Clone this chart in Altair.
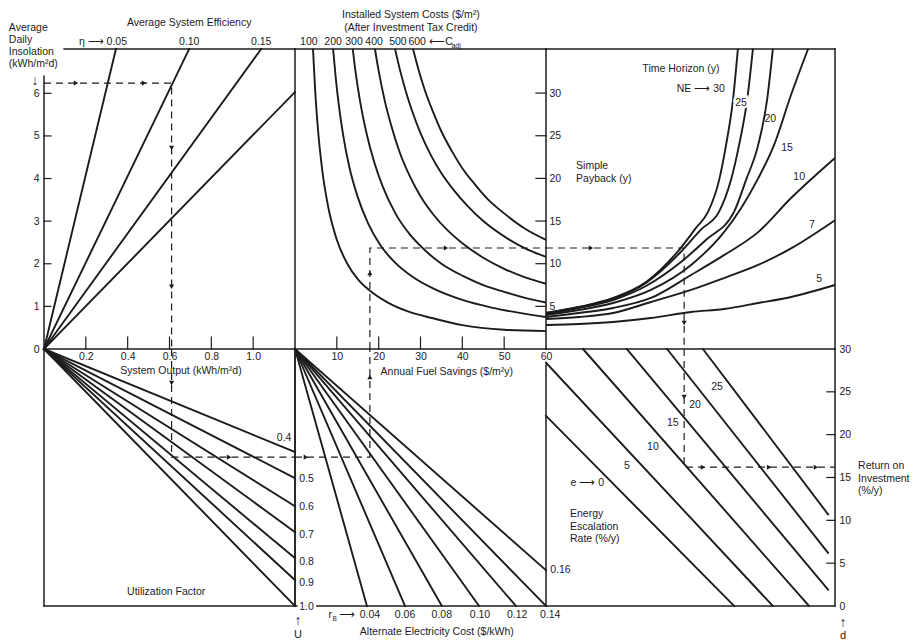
import altair as alt
import pandas as pd

FONT = "Liberation Sans"
INK = "#1c1c1c"

# ================= values =================
# --- top-left: average system efficiency (system output vs. daily insolation)
eff_labels = ["0.05", "0.10", "0.15", "0.20"]
eff_end_output = [0.344, 0.694, 1.038, 1.2]
eff_end_insolation = [7.04, 7.04, 7.04, 6.03]
insolation_ticks = [1, 2, 3, 4, 5, 6]
insolation_labels = [0, 1, 2, 3, 4, 5, 6]
output_ticks = [0.2, 0.4, 0.6, 0.8, 1.0]

# --- top-middle: installed system cost curves (annual fuel savings -> simple payback)
cost_labels = ["100", "200", "300", "400", "500", "600"]
cost_label_savings = [3.3, 9.1, 14.1, 18.9, 24.6, 29.2]
cost_savings = [
    [4.3, 4.8, 5.5, 6.5, 8.0, 10.0, 12.5, 15.0, 18.0, 22.0, 27.0, 33.0, 40.0, 50.0, 60.0],
    [9.1, 9.8, 10.5, 11.5, 13.0, 15.0, 17.5, 20.5, 24.0, 28.0, 33.0, 40.0, 47.0, 54.0, 60.0],
    [13.8, 14.5, 15.5, 17.0, 19.0, 21.0, 24.0, 27.5, 31.0, 35.0, 40.0, 45.0, 50.0, 55.0, 60.0],
    [19.1, 20.0, 21.5, 23.0, 25.0, 27.5, 30.0, 33.0, 36.5, 40.0, 45.0, 50.0, 55.0, 60.0],
    [23.9, 25.0, 26.5, 28.0, 30.0, 32.5, 35.0, 38.0, 41.0, 45.0, 50.0, 55.0, 60.0],
    [28.2, 29.5, 31.0, 33.0, 35.0, 37.5, 40.0, 43.0, 46.0, 50.0, 55.0, 60.0],
]
cost_payback = [
    [35.2, 30.5, 25.7, 21.0, 16.5, 12.8, 10.0, 8.2, 6.8, 5.5, 4.4, 3.6, 2.8, 2.25, 2.1],
    [35.2, 31.5, 28.5, 25.1, 21.3, 17.8, 14.7, 12.1, 10.1, 8.5, 7.1, 5.75, 4.85, 4.2, 3.75],
    [35.2, 32.4, 29.2, 25.5, 21.8, 19.0, 15.9, 13.4, 11.6, 10.0, 8.6, 7.5, 6.7, 6.0, 5.45],
    [35.2, 32.6, 29.0, 26.2, 23.1, 20.2, 17.9, 15.8, 13.9, 12.4, 10.7, 9.4, 8.4, 7.65],
    [35.2, 32.9, 30.2, 27.9, 25.3, 22.7, 20.6, 18.6, 16.9, 15.0, 13.2, 11.8, 10.8],
    [35.2, 32.8, 30.4, 27.8, 25.5, 23.2, 21.2, 19.3, 17.6, 15.9, 14.1, 12.8],
]
savings_ticks = [10, 20, 30, 40, 50, 60]
payback_ticks = [5, 10, 15, 20, 25, 30]

# --- top-right: time horizon curves (unlabelled index 0-100 -> simple payback)
horizon_labels = ["30", "25", "20", "15", "10", "7", "5"]
horizon_index = [
    [0, 11.4, 23.2, 34.6, 46.0, 51.9, 56.1, 59.9, 62.3, 64.7, 66.4],
    [0, 11.4, 23.2, 34.6, 46.7, 53.6, 59.9, 64.0, 66.8, 69.6, 71.6],
    [0, 11.4, 23.2, 34.6, 46.7, 55.4, 65.1, 69.2, 73.4, 76.5, 78.5],
    [0, 11.4, 23.2, 36.3, 50.2, 61.6, 67.5, 73.4, 78.9, 84.8, 90.7],
    [0, 11.4, 23.2, 36.3, 50.2, 61.6, 73.4, 84.8, 100],
    [0, 11.4, 23.2, 36.3, 50.2, 61.6, 73.4, 84.8, 100],
    [0, 11.4, 23.2, 36.3, 50.2, 61.6, 73.4, 84.8, 100],
]
horizon_payback = [
    [4.22, 4.92, 5.98, 7.85, 11.6, 14.2, 16.1, 19.8, 23.9, 29.2, 35.2],
    [4.22, 4.92, 5.86, 7.74, 11.4, 14.0, 16.1, 19.8, 23.9, 29.2, 35.2],
    [4.10, 4.81, 5.74, 7.39, 10.2, 12.8, 16.1, 19.8, 23.9, 29.2, 35.2],
    [3.99, 4.57, 5.39, 6.92, 9.85, 13.7, 16.5, 20.0, 23.9, 29.8, 35.2],
    [3.75, 4.22, 4.81, 5.98, 8.68, 11.0, 13.7, 17.7, 22.4],
    [3.52, 3.75, 4.22, 5.51, 6.92, 8.32, 9.85, 11.8, 15.1],
    [2.81, 2.93, 3.17, 3.63, 4.34, 4.69, 5.39, 6.10, 7.50],
]
horizon_label_index = [61.9, 67.5, 77.6, 83.4, 87.6, 92.0, 94.5]
horizon_label_payback = [30.5, 28.8, 27.0, 23.6, 20.2, 14.5, 8.2]

# --- bottom-left: utilization factor lines (usable output at system output 1.2)
util_labels = ["0.4", "0.5", "0.6", "0.7", "0.8", "0.9", "1.0"]
util_end_usable = [0.481, 0.603, 0.734, 0.855, 0.977, 1.079, 1.2]
util_label_usable = [0.416, 0.607, 0.738, 0.869, 0.995, 1.093, 1.206]

# --- bottom-middle: alternate electricity cost lines
elec_labels = ["0.04", "0.06", "0.08", "0.10", "0.12", "0.14", "0.16"]
elec_end_savings = [17.2, 26.3, 35.1, 44.0, 52.8, 60.0, 60.0]
elec_end_usable = [1.2, 1.2, 1.2, 1.2, 1.2, 1.2, 1.033]
elec_label_savings = [17.9, 26.3, 35.1, 44.2, 53.1, 61.0]

# --- bottom-right: energy escalation rate lines (index -> return on investment)
esc_labels = ["0", "5", "10", "15", "20", "25"]
esc_start_index = [0.0, 0.0, 12.8, 28.0, 41.9, 54.3]
esc_start_roi = [22.2, 28.4, 30.0, 30.0, 30.0, 30.0]
esc_end_index = [65.1, 78.5, 91.0, 97.6, 97.6, 97.6]
esc_end_roi = [0.0, 0.0, 0.0, 1.9, 6.2, 10.7]
esc_label_index = [20.1, 28.0, 37.0, 43.9, 51.6, 59.2]
esc_label_roi = [14.35, 16.3, 18.6, 21.4, 23.5, 25.6]
roi_ticks = [5, 10, 15, 20, 25]
roi_labels = [0, 5, 10, 15, 20, 25, 30]

# --- worked example (dashed path)
ex_insolation = 6.24
ex_output = 0.61
ex_usable = 0.505
ex_savings = 17.9
ex_payback = 11.84
ex_index = 47.8
ex_roi = 16.2

# ================= helpers =================
W1, W2, W3 = 251, 251, 289
H1, H2 = 300, 257
ARW = "⟶"
ARW_L = "⟵"


def encoders(xdom, ydom, yrev=False, xaxis=None, yaxis=None):
    xs = alt.Scale(domain=xdom, nice=False, zero=False)
    ys = alt.Scale(domain=ydom, nice=False, zero=False, reverse=yrev)

    def X():
        return alt.X("x:Q", scale=xs, axis=xaxis, title=None)

    def Y():
        return alt.Y("y:Q", scale=ys, axis=yaxis, title=None)

    return X, Y


def segs(E, rows, width=1.5, dash=None, color=INK):
    X, Y = E
    df = pd.DataFrame(rows, columns=["x", "y", "x2", "y2"])
    kw = dict(color=color, strokeWidth=width, strokeCap="square")
    if dash:
        kw["strokeDash"] = dash
        kw["strokeCap"] = "butt"
    return alt.Chart(df).mark_rule(**kw).encode(
        x=X(), y=Y(), x2=alt.X2("x2"), y2=alt.Y2("y2"))


def paths(E, series, width=1.9, dash=None, interp="monotone"):
    X, Y = E
    rows = []
    for sid, (xs, ys) in enumerate(series):
        for i, (a, b) in enumerate(zip(xs, ys)):
            rows.append({"s": sid, "i": i, "x": a, "y": b})
    df = pd.DataFrame(rows)
    kw = dict(color=INK, strokeWidth=width, interpolate=interp)
    if dash:
        kw["strokeDash"] = dash
    return alt.Chart(df).mark_line(**kw).encode(
        x=X(), y=Y(), detail="s:N", order="i:Q")


def texts(E, rows, align="center", size=10.5, baseline="middle", halo=False, **kw):
    X, Y = E
    df = pd.DataFrame(rows, columns=["x", "y", "label"])
    if halo:
        return alt.Chart(df).mark_text(
            align=align, baseline=baseline, fontSize=size, font=FONT,
            fill="white", stroke="white", strokeWidth=5, **kw
        ).encode(x=X(), y=Y(), text="label:N")
    return alt.Chart(df).mark_text(
        align=align, baseline=baseline, fontSize=size, font=FONT, fill=INK, **kw
    ).encode(x=X(), y=Y(), text="label:N")


def arrows(E, rows):
    X, Y = E
    df = pd.DataFrame(rows, columns=["x", "y", "dir"])
    return alt.Chart(df).mark_point(filled=True, size=26, fill=INK, strokeWidth=0, opacity=1).encode(
        x=X(), y=Y(),
        shape=alt.Shape("dir:N", scale=alt.Scale(
            domain=["right", "down", "up"],
            range=["triangle-right", "triangle-down", "triangle-up"]), legend=None))


def axis(orient, values, fmt, pad):
    return alt.Axis(orient=orient, values=values, format=fmt, ticks=False, domain=False,
                    grid=False, labelPadding=pad, labelFontSize=10.5, labelFont=FONT,
                    labelColor=INK, labelFlush=False, labelOverlap=False, title=None)


DASH = [7, 5]
OUT_MAX, INS_MAX = 1.2, 7.04
SAV_MAX, PB_MAX = 60.0, 35.17
IDX_MAX = 100.0
USE_MAX, ROI_MAX = 1.2, 30.0

# ================= top-left panel =================
E = encoders([0, OUT_MAX], [0, INS_MAX],
             xaxis=axis("bottom", output_ticks, ".1f", 2),
             yaxis=axis("left", insolation_labels, "d", 5))
tl = alt.layer(
    segs(E, [(0, 0, 0, 6.4), (0.096, INS_MAX, OUT_MAX, INS_MAX), (0, 0, OUT_MAX, 0),
             (OUT_MAX, 0, OUT_MAX, INS_MAX)], width=1.5),
    segs(E, [(0, v, 0.033, v) for v in insolation_ticks]
         + [(v, 0, v, 0.28) for v in output_ticks], width=1.2),
    segs(E, [(0, 0, o, i) for o, i in zip(eff_end_output, eff_end_insolation)], width=1.9),
    paths(E, [([0, ex_output, ex_output], [ex_insolation, ex_insolation, 0])],
          width=1.2, dash=DASH, interp="linear"),
    arrows(E, [(0.153, ex_insolation, "right"), (0.478, ex_insolation, "right"),
               (ex_output, 4.72, "down"), (ex_output, 1.46, "down")]),
    texts(E, [(0.694, 7.66, "Average System Efficiency"),
              (0.694, 7.2, eff_labels[1]), (1.038, 7.2, eff_labels[2])]),
    texts(E, [(0.397, 7.2, "η " + ARW + " " + eff_labels[0])], align="right"),
    texts(E, [(-0.168, 7.66, "Average\nDaily\nInsolation\n(kWh/m²d)")], align="left",
          baseline="top", lineBreak="\n", lineHeight=12.2),
    texts(E, [(-0.043, 6.28, "↓")], size=14),
).properties(width=W1, height=H1)

# ================= top-middle panel =================
E = encoders([0, SAV_MAX], [0, PB_MAX],
             xaxis=axis("bottom", savings_ticks, "d", 2),
             yaxis=axis("right", payback_ticks, "d", 3))
tm = alt.layer(
    segs(E, [(0, PB_MAX, SAV_MAX, PB_MAX), (SAV_MAX, 0, SAV_MAX, PB_MAX),
             (0, 0, SAV_MAX, 0)], width=1.5),
    segs(E, [(v, 0, v, 1.4) for v in savings_ticks[:-1]]
         + [(SAV_MAX - 2.4, v, SAV_MAX, v) for v in payback_ticks], width=1.2),
    paths(E, list(zip(cost_savings, cost_payback)), width=1.9),
    paths(E, [([ex_savings, ex_savings, SAV_MAX], [0, ex_payback, ex_payback])],
          width=1.2, dash=DASH, interp="linear"),
    arrows(E, [(ex_savings, 8.9, "up"), (36.1, ex_payback, "right")]),
    texts(E, [(27.7, 39.74, "Installed System Costs ($/m²)\n(After Investment Tax Credit)")],
          baseline="top", lineBreak="\n", lineHeight=12.5),
    texts(E, [(s, 36.0, c) for s, c in zip(cost_label_savings, cost_labels)]),
    texts(E, [(34.0, 36.0, ARW_L)]),
    texts(E, [(35.9, 36.0, "C")], align="left"),
    texts(E, [(37.4, 35.55, "adj")], align="left", size=7),
).properties(width=W2, height=H1)

# ================= top-right panel =================
E = encoders([0, IDX_MAX], [0, PB_MAX])
tr = alt.layer(
    segs(E, [(0, PB_MAX, IDX_MAX, PB_MAX), (IDX_MAX, 0, IDX_MAX, PB_MAX),
             (0, 0, IDX_MAX, 0)], width=1.5),
    paths(E, list(zip(horizon_index, horizon_payback)), width=1.9),
    paths(E, [([0, ex_index, ex_index], [ex_payback, ex_payback, 0])],
          width=1.2, dash=DASH, interp="linear"),
    arrows(E, [(15.6, ex_payback, "right"), (ex_index, 3.05, "down")]),
    texts(E, [(46.7, 32.8, "Time Horizon (y)")]),
    texts(E, [(horizon_label_index[0], horizon_label_payback[0],
               "NE " + ARW + " " + horizon_labels[0])], align="right"),
    texts(E, [(horizon_label_index[1], horizon_label_payback[1], horizon_labels[1])], halo=True),
    texts(E, [(x, y, t) for x, y, t in zip(horizon_label_index[1:], horizon_label_payback[1:],
                                           horizon_labels[1:])]),
    texts(E, [(10.4, 22.0, "Simple\nPayback (y)")], align="left", baseline="top",
          lineBreak="\n", lineHeight=13),
).properties(width=W3, height=H1)

# ================= bottom-left panel =================
E = encoders([0, OUT_MAX], [0, USE_MAX], yrev=True)
bl = alt.layer(
    segs(E, [(0, 0, 0, USE_MAX), (0, USE_MAX, OUT_MAX, USE_MAX),
             (OUT_MAX, 0, OUT_MAX, USE_MAX)], width=1.5),
    segs(E, [(0, 0, OUT_MAX, u) for u in util_end_usable], width=1.9),
    paths(E, [([ex_output, ex_output, OUT_MAX], [0, ex_usable, ex_usable])],
          width=1.2, dash=DASH, interp="linear"),
    arrows(E, [(ex_output, 0.159, "down"), (0.885, ex_usable, "right")]),
    texts(E, [(0.655, 0.103, "System Output (kWh/m²d)"),
              (0.584, 1.136, "Utilization Factor"),
              (1.148, util_label_usable[0], util_labels[0])]),
).properties(width=W1, height=H2)

# ================= bottom-middle panel =================
E = encoders([0, SAV_MAX], [0, USE_MAX], yrev=True)
bm = alt.layer(
    segs(E, [(0, 0, 0, USE_MAX), (0, USE_MAX, SAV_MAX, USE_MAX),
             (SAV_MAX, 0.075, SAV_MAX, USE_MAX)], width=1.5),
    segs(E, [(0, 0, s, u) for s, u in zip(elec_end_savings, elec_end_usable)], width=1.9),
    paths(E, [([0, ex_savings, ex_savings], [ex_usable, ex_usable, 0])],
          width=1.2, dash=DASH, interp="linear"),
    arrows(E, [(2.6, ex_usable, "right"), (ex_savings, 0.131, "up")]),
    texts(E, [(36.3, 0.107, "Annual Fuel Savings ($/m²y)"),
              (33.9, 1.322, "Alternate Electricity Cost ($/kWh)")]),
    texts(E, [(1.0, util_label_usable[-1], util_labels[-1])], align="left", halo=True),
    texts(E, [(1.0, u, t) for u, t in zip(util_label_usable[1:], util_labels[1:])], align="left"),
    texts(E, [(s, 1.243, t) for s, t in zip(elec_label_savings, elec_labels[:-1])]),
    texts(E, [(61.0, elec_end_usable[-1], elec_labels[-1])], align="left"),
    texts(E, [(8.4, 1.243, "r")], align="center"),
    texts(E, [(9.5, 1.26, "B")], align="center", size=6.5),
    texts(E, [(12.4, 1.243, ARW)], align="center"),
    texts(E, [(0.7, 1.27, "↑")], size=14),
    texts(E, [(0.7, 1.336, "U")], size=11),
).properties(width=W2, height=H2)

# ================= bottom-right panel =================
E = encoders([0, IDX_MAX], [0, ROI_MAX],
             yaxis=axis("right", roi_labels, "d", 4))
br = alt.layer(
    segs(E, [(0, 0, IDX_MAX, 0), (IDX_MAX, 0, IDX_MAX, ROI_MAX)], width=1.5),
    segs(E, [(IDX_MAX - 2.8, v, IDX_MAX, v) for v in roi_ticks], width=1.2),
    segs(E, [(a, b, c, d) for a, b, c, d in zip(esc_start_index, esc_start_roi,
                                                  esc_end_index, esc_end_roi)], width=1.9),
    paths(E, [([ex_index, ex_index, IDX_MAX], [ROI_MAX, ex_roi, ex_roi])],
          width=1.2, dash=DASH, interp="linear"),
    arrows(E, [(ex_index, 24.4, "down"), (54.3, ex_roi, "right"),
               (77.2, ex_roi, "right"), (93.4, ex_roi, "right")]),
    texts(E, [(esc_label_index[0], esc_label_roi[0], "e " + ARW + " " + esc_labels[0])],
          align="right"),
    texts(E, [(x, y, t) for x, y, t in zip(esc_label_index[1:], esc_label_roi[1:],
                                           esc_labels[1:])]),
    texts(E, [(8.3, 11.3, "Energy\nEscalation\nRate (%/y)")], align="left", baseline="top",
          lineBreak="\n", lineHeight=12.5),
    texts(E, [(108.0, 16.9, "Return on\nInvestment\n(%/y)")], align="left", baseline="top",
          lineBreak="\n", lineHeight=12.5),
    texts(E, [(102.8, -1.95, "↑")], size=14),
    texts(E, [(102.8, -3.55, "d")], size=11),
).properties(width=W3, height=H2)

chart = (
    alt.concat(tl, tm, tr, bl, bm, br, columns=3, spacing=0, bounds="flush", align="each")
    .properties(padding={"left": 0, "top": 2, "right": 0, "bottom": 0}, background="white")
    .configure_view(strokeWidth=0)
)

chart.save("out.html", embed_options={"renderer": "svg", "actions": False})
